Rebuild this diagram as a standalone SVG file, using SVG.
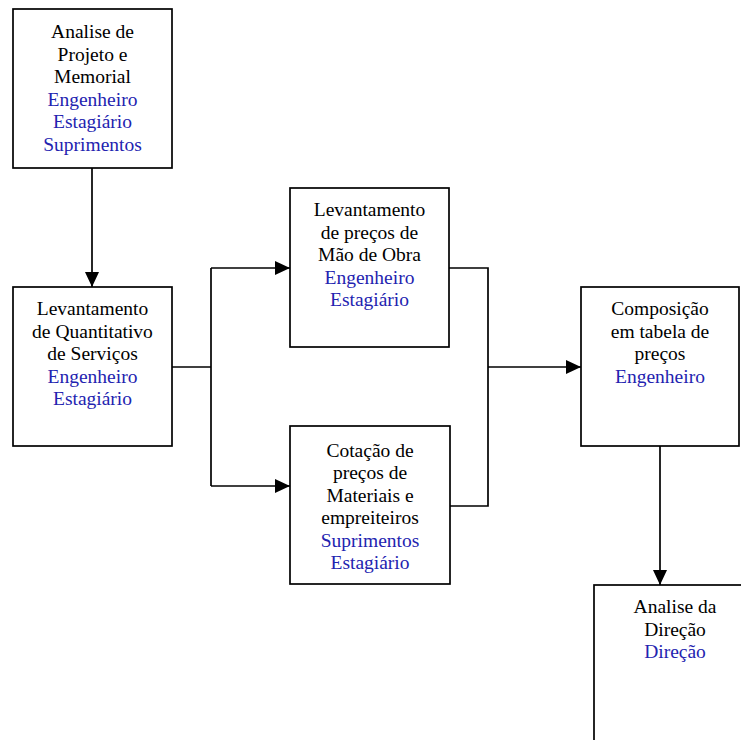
<svg xmlns="http://www.w3.org/2000/svg" width="741" height="740" viewBox="0 0 741 740">
<style>
.box{fill:#ffffff;stroke:#000000;stroke-width:1.7}
.t{font-family:"Liberation Serif","Times New Roman",serif;font-size:19.5px;fill:#000000;text-anchor:middle}
.b{fill:#2323b0}
.c{fill:none;stroke:#000000;stroke-width:1.7}
</style>
<defs>
<marker id="ah" viewBox="0 0 15 14" refX="15" refY="7" markerWidth="15" markerHeight="14" markerUnits="userSpaceOnUse" orient="auto">
<path d="M0,0 L15,7 L0,14 z" fill="#000000"/>
</marker>
</defs>
<rect width="741" height="740" fill="#ffffff"/>
<g id="connectors">
<path class="c" d="M92,168 V287" marker-end="url(#ah)"/>
<path class="c" d="M172,367 H211"/>
<path class="c" d="M211,268 V486"/>
<path class="c" d="M211,268 H290" marker-end="url(#ah)"/>
<path class="c" d="M211,486 H290" marker-end="url(#ah)"/>
<path class="c" d="M449,268 H488 V506 H450"/>
<path class="c" d="M488,367 H581" marker-end="url(#ah)"/>
<path class="c" d="M660,446 V585" marker-end="url(#ah)"/>
</g>
<g id="n1">
<rect class="box" x="13" y="9" width="159" height="159"/>
<text class="t" x="92.5" y="38">Analise de</text>
<text class="t" x="92.5" y="60.5">Projeto e</text>
<text class="t" x="92.5" y="83">Memorial</text>
<text class="t b" x="92.5" y="105.5">Engenheiro</text>
<text class="t b" x="92.5" y="128">Estagiário</text>
<text class="t b" x="92.5" y="150.5">Suprimentos</text>
</g>
<g id="n2">
<rect class="box" x="13" y="287" width="159" height="159"/>
<text class="t" x="92.5" y="315">Levantamento</text>
<text class="t" x="92.5" y="337.5">de Quantitativo</text>
<text class="t" x="92.5" y="360">de Serviços</text>
<text class="t b" x="92.5" y="382.5">Engenheiro</text>
<text class="t b" x="92.5" y="405">Estagiário</text>
</g>
<g id="n3">
<rect class="box" x="290" y="188" width="159" height="159"/>
<text class="t" x="369.5" y="216">Levantamento</text>
<text class="t" x="369.5" y="238.5">de preços de</text>
<text class="t" x="369.5" y="261">Mão de Obra</text>
<text class="t b" x="369.5" y="283.5">Engenheiro</text>
<text class="t b" x="369.5" y="306">Estagiário</text>
</g>
<g id="n4">
<rect class="box" x="290" y="426" width="160" height="158"/>
<text class="t" x="370" y="456.5">Cotação de</text>
<text class="t" x="370" y="479">preços de</text>
<text class="t" x="370" y="501.5">Materiais e</text>
<text class="t" x="370" y="524">empreiteiros</text>
<text class="t b" x="370" y="546.5">Suprimentos</text>
<text class="t b" x="370" y="569">Estagiário</text>
</g>
<g id="n5">
<rect class="box" x="581" y="287" width="158" height="159"/>
<text class="t" x="660" y="315">Composição</text>
<text class="t" x="660" y="337.5">em tabela de</text>
<text class="t" x="660" y="360">preços</text>
<text class="t b" x="660" y="382.5">Engenheiro</text>
</g>
<g id="n6">
<rect class="box" x="594" y="585" width="162" height="170"/>
<text class="t" x="675" y="613">Analise da</text>
<text class="t" x="675" y="635.5">Direção</text>
<text class="t b" x="675" y="658">Direção</text>
</g>
</svg>
